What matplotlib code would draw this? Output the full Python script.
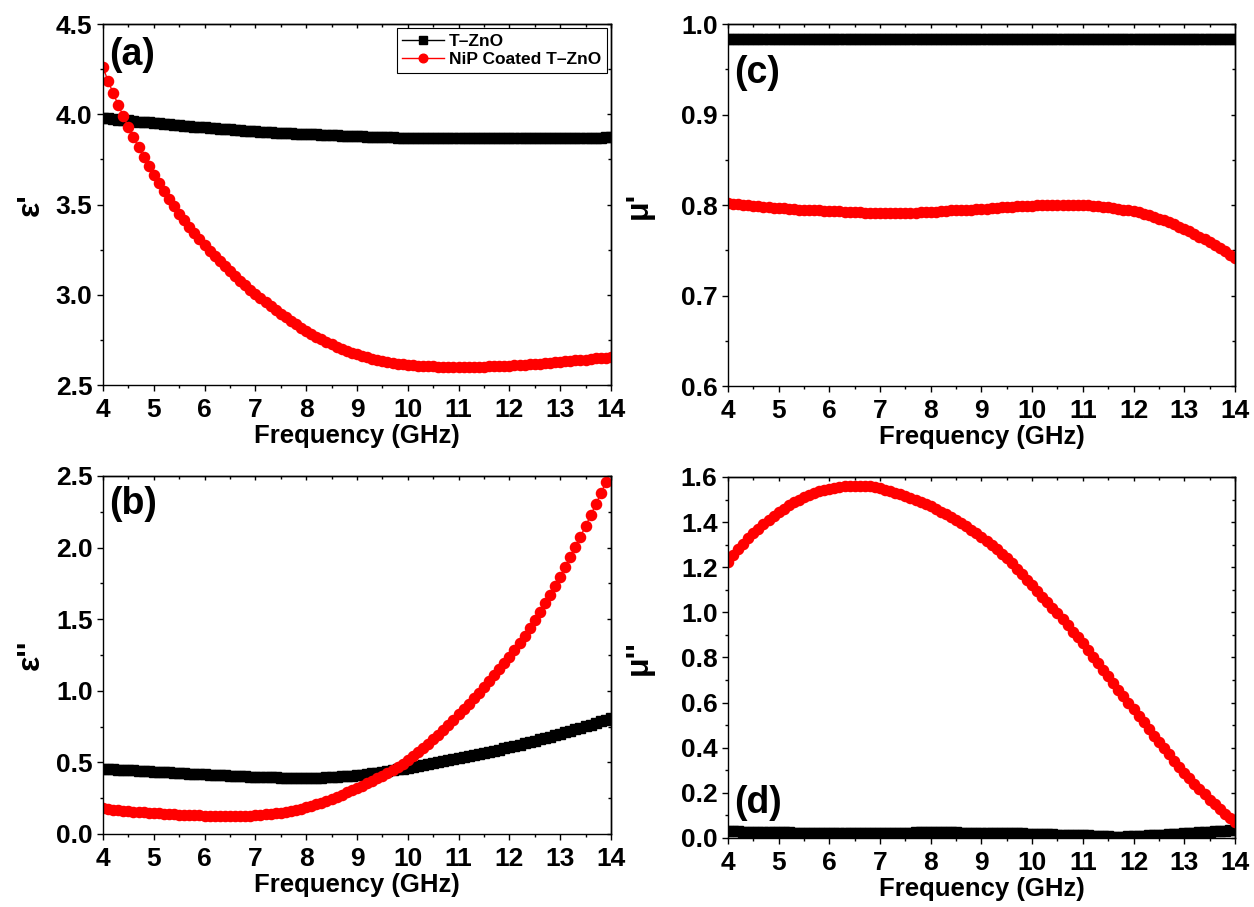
import matplotlib
matplotlib.use("Agg")
import matplotlib.pyplot as plt
import numpy as np
from matplotlib.ticker import MultipleLocator, FormatStrFormatter

plt.rcParams['font.family'] = ['Liberation Sans', 'DejaVu Sans']
plt.rcParams['font.weight'] = 'bold'
plt.rcParams['axes.linewidth'] = 1.0

# frequency sweep, 4-14 GHz in 0.1 GHz steps
freq = np.linspace(4, 14, 101)

# real permittivity
eps1_tzno = [
    3.980, 3.977, 3.974, 3.971, 3.968, 3.966, 3.963, 3.960, 3.957, 3.955,
    3.952, 3.949, 3.947, 3.944, 3.942, 3.939, 3.937, 3.934, 3.932, 3.929,
    3.927, 3.925, 3.923, 3.920, 3.918, 3.916, 3.914, 3.912, 3.910, 3.908,
    3.906, 3.904, 3.903, 3.901, 3.899, 3.898, 3.896, 3.895, 3.893, 3.892,
    3.890, 3.889, 3.888, 3.886, 3.885, 3.884, 3.883, 3.881, 3.880, 3.879,
    3.878, 3.877, 3.876, 3.875, 3.874, 3.874, 3.873, 3.872, 3.871, 3.871,
    3.870, 3.870, 3.869, 3.869, 3.868, 3.868, 3.868, 3.867, 3.867, 3.867,
    3.867, 3.867, 3.866, 3.866, 3.866, 3.866, 3.866, 3.866, 3.866, 3.866,
    3.866, 3.866, 3.866, 3.867, 3.867, 3.867, 3.867, 3.867, 3.868, 3.868,
    3.868, 3.868, 3.869, 3.869, 3.869, 3.870, 3.870, 3.871, 3.871, 3.872,
    3.872]
eps1_nip = [
    4.260, 4.185, 4.118, 4.052, 3.990, 3.930, 3.873, 3.818, 3.765, 3.714,
    3.665, 3.619, 3.575, 3.532, 3.490, 3.450, 3.413, 3.377, 3.342, 3.308,
    3.275, 3.245, 3.215, 3.186, 3.158, 3.130, 3.104, 3.078, 3.053, 3.029,
    3.005, 2.982, 2.960, 2.938, 2.916, 2.895, 2.875, 2.856, 2.837, 2.818,
    2.800, 2.784, 2.768, 2.753, 2.739, 2.725, 2.713, 2.701, 2.690, 2.680,
    2.670, 2.661, 2.653, 2.645, 2.638, 2.632, 2.627, 2.622, 2.618, 2.615,
    2.612, 2.610, 2.608, 2.606, 2.604, 2.603, 2.602, 2.601, 2.600, 2.600,
    2.600, 2.600, 2.601, 2.601, 2.602, 2.602, 2.603, 2.604, 2.605, 2.606,
    2.607, 2.609, 2.611, 2.612, 2.614, 2.616, 2.618, 2.621, 2.623, 2.626,
    2.628, 2.631, 2.633, 2.636, 2.638, 2.641, 2.644, 2.647, 2.649, 2.652,
    2.655]

# imaginary permittivity
eps2_tzno = [
    0.455, 0.453, 0.451, 0.450, 0.448, 0.446, 0.444, 0.442, 0.440, 0.438,
    0.436, 0.434, 0.432, 0.430, 0.428, 0.426, 0.424, 0.422, 0.420, 0.418,
    0.416, 0.414, 0.412, 0.411, 0.409, 0.407, 0.405, 0.404, 0.402, 0.401,
    0.399, 0.398, 0.397, 0.396, 0.395, 0.394, 0.393, 0.393, 0.392, 0.392,
    0.392, 0.392, 0.393, 0.394, 0.395, 0.397, 0.399, 0.402, 0.404, 0.407,
    0.410, 0.414, 0.419, 0.423, 0.428, 0.433, 0.439, 0.445, 0.451, 0.457,
    0.463, 0.469, 0.475, 0.481, 0.488, 0.494, 0.501, 0.507, 0.514, 0.521,
    0.528, 0.535, 0.542, 0.549, 0.557, 0.564, 0.572, 0.580, 0.588, 0.597,
    0.605, 0.614, 0.623, 0.632, 0.641, 0.650, 0.660, 0.670, 0.680, 0.690,
    0.700, 0.711, 0.721, 0.732, 0.742, 0.753, 0.764, 0.776, 0.787, 0.799,
    0.810]
eps2_nip = [
    0.178, 0.174, 0.170, 0.167, 0.163, 0.160, 0.157, 0.154, 0.151, 0.148,
    0.146, 0.144, 0.142, 0.140, 0.138, 0.136, 0.135, 0.133, 0.132, 0.130,
    0.129, 0.128, 0.127, 0.127, 0.126, 0.126, 0.126, 0.127, 0.128, 0.129,
    0.131, 0.134, 0.137, 0.140, 0.144, 0.148, 0.154, 0.161, 0.168, 0.176,
    0.185, 0.196, 0.207, 0.219, 0.232, 0.245, 0.260, 0.275, 0.290, 0.305,
    0.320, 0.337, 0.354, 0.371, 0.389, 0.408, 0.428, 0.449, 0.470, 0.492,
    0.515, 0.543, 0.572, 0.601, 0.630, 0.660, 0.694, 0.729, 0.764, 0.799,
    0.835, 0.872, 0.910, 0.948, 0.986, 1.025, 1.066, 1.107, 1.149, 1.192,
    1.235, 1.283, 1.333, 1.385, 1.439, 1.495, 1.553, 1.612, 1.672, 1.733,
    1.795, 1.864, 1.934, 2.005, 2.077, 2.150, 2.225, 2.301, 2.378, 2.456,
    2.535]

# real permeability
mu1_tzno = [
    0.983, 0.983, 0.983, 0.983, 0.983, 0.983, 0.983, 0.983, 0.983, 0.983,
    0.983, 0.983, 0.983, 0.983, 0.983, 0.983, 0.983, 0.983, 0.983, 0.983,
    0.983, 0.983, 0.983, 0.983, 0.983, 0.983, 0.983, 0.983, 0.983, 0.983,
    0.983, 0.983, 0.983, 0.983, 0.983, 0.983, 0.983, 0.983, 0.983, 0.983,
    0.983, 0.983, 0.983, 0.983, 0.983, 0.983, 0.983, 0.983, 0.983, 0.983,
    0.983, 0.983, 0.983, 0.983, 0.983, 0.983, 0.983, 0.983, 0.983, 0.983,
    0.983, 0.983, 0.983, 0.983, 0.983, 0.983, 0.983, 0.983, 0.983, 0.983,
    0.983, 0.983, 0.983, 0.983, 0.983, 0.983, 0.983, 0.983, 0.983, 0.983,
    0.983, 0.983, 0.983, 0.983, 0.983, 0.983, 0.983, 0.983, 0.983, 0.983,
    0.983, 0.983, 0.983, 0.983, 0.983, 0.983, 0.983, 0.983, 0.983, 0.983,
    0.983]
mu1_nip = [
    0.802, 0.801, 0.801, 0.800, 0.800, 0.799, 0.799, 0.798, 0.798, 0.797,
    0.797, 0.797, 0.796, 0.796, 0.795, 0.795, 0.795, 0.794, 0.794, 0.793,
    0.793, 0.793, 0.793, 0.792, 0.792, 0.792, 0.792, 0.791, 0.791, 0.791,
    0.791, 0.791, 0.791, 0.791, 0.791, 0.791, 0.791, 0.791, 0.792, 0.792,
    0.792, 0.792, 0.793, 0.793, 0.794, 0.794, 0.794, 0.795, 0.795, 0.796,
    0.796, 0.796, 0.797, 0.797, 0.798, 0.798, 0.798, 0.799, 0.799, 0.799,
    0.799, 0.800, 0.800, 0.800, 0.800, 0.800, 0.800, 0.800, 0.800, 0.800,
    0.800, 0.800, 0.799, 0.799, 0.798, 0.798, 0.797, 0.796, 0.795, 0.794,
    0.793, 0.792, 0.790, 0.789, 0.787, 0.785, 0.783, 0.781, 0.779, 0.776,
    0.774, 0.771, 0.768, 0.765, 0.762, 0.759, 0.756, 0.752, 0.749, 0.745,
    0.741]

# imaginary permeability
mu2_tzno = [
    0.030, 0.029, 0.029, 0.028, 0.028, 0.027, 0.027, 0.026, 0.026, 0.025,
    0.025, 0.025, 0.025, 0.024, 0.024, 0.024, 0.024, 0.024, 0.024, 0.024,
    0.024, 0.024, 0.024, 0.024, 0.024, 0.024, 0.024, 0.024, 0.024, 0.024,
    0.024, 0.024, 0.024, 0.024, 0.024, 0.024, 0.024, 0.025, 0.025, 0.025,
    0.025, 0.025, 0.025, 0.025, 0.025, 0.025, 0.024, 0.024, 0.024, 0.024,
    0.024, 0.023, 0.023, 0.022, 0.022, 0.021, 0.021, 0.020, 0.020, 0.019,
    0.019, 0.018, 0.017, 0.016, 0.016, 0.015, 0.014, 0.014, 0.013, 0.012,
    0.012, 0.011, 0.010, 0.009, 0.008, 0.007, 0.006, 0.005, 0.006, 0.007,
    0.008, 0.009, 0.010, 0.011, 0.012, 0.014, 0.015, 0.016, 0.017, 0.019,
    0.020, 0.022, 0.023, 0.025, 0.026, 0.028, 0.029, 0.031, 0.032, 0.034,
    0.036]
mu2_nip = [
    1.225, 1.253, 1.279, 1.304, 1.328, 1.350, 1.371, 1.391, 1.410, 1.428,
    1.445, 1.460, 1.474, 1.487, 1.499, 1.510, 1.519, 1.528, 1.536, 1.542,
    1.548, 1.552, 1.556, 1.559, 1.561, 1.562, 1.562, 1.560, 1.558, 1.554,
    1.550, 1.544, 1.537, 1.530, 1.523, 1.515, 1.506, 1.497, 1.489, 1.480,
    1.470, 1.459, 1.447, 1.435, 1.423, 1.410, 1.396, 1.381, 1.366, 1.351,
    1.335, 1.317, 1.298, 1.280, 1.260, 1.240, 1.217, 1.193, 1.169, 1.145,
    1.120, 1.095, 1.070, 1.045, 1.020, 0.995, 0.969, 0.942, 0.915, 0.889,
    0.862, 0.833, 0.804, 0.775, 0.745, 0.716, 0.687, 0.657, 0.628, 0.599,
    0.570, 0.541, 0.512, 0.483, 0.454, 0.425, 0.397, 0.370, 0.343, 0.316,
    0.290, 0.265, 0.240, 0.216, 0.193, 0.170, 0.149, 0.128, 0.108, 0.089,
    0.070]

labels = ["T\u2013ZnO", "NiP Coated T\u2013ZnO"]

fig = plt.figure(figsize=(12.54, 9.07), dpi=100)

ax_a = fig.add_axes([0.0821, 0.5755, 0.4051, 0.3980])
ax_b = fig.add_axes([0.0821, 0.0805, 0.4051, 0.3947])
ax_c = fig.add_axes([0.5805, 0.5744, 0.4043, 0.3991])
ax_d = fig.add_axes([0.5805, 0.0761, 0.4043, 0.3980])

panels = [
    (ax_a, eps1_tzno, eps1_nip, (2.5, 4.5), 0.5, "\u03b5'", "(a)", 0.965, -0.112),
    (ax_b, eps2_tzno, eps2_nip, (0.0, 2.5), 0.5, "\u03b5''", "(b)", 0.972, -0.112),
    (ax_c, mu1_tzno, mu1_nip, (0.6, 1.0), 0.1, "\u03bc'", "(c)", 0.915, -0.146),
    (ax_d, mu2_tzno, mu2_nip, (0.0, 1.6), 0.2, "\u03bc''", "(d)", 0.148, -0.146),
]

for ax, black, red, ylim, ystep, ylab, tag, tag_y, ylab_x in panels:
    ax.plot(freq, black, color='black', marker='s', markersize=6.8, lw=1.0,
            label=labels[0])
    ax.plot(freq, red, color='red', marker='o', markersize=7.3, lw=1.0,
            markeredgecolor='red', label=labels[1])
    ax.set_xlim(4, 14)
    ax.set_ylim(*ylim)

    ax.xaxis.set_major_locator(MultipleLocator(1))
    ax.xaxis.set_minor_locator(MultipleLocator(0.5))
    ax.yaxis.set_major_locator(MultipleLocator(ystep))
    ax.yaxis.set_minor_locator(MultipleLocator(ystep / 2))
    ax.yaxis.set_major_formatter(FormatStrFormatter('%.1f'))

    ax.tick_params(which='both', direction='out', width=1.0, labelsize=19,
                   top=False, right=False)
    ax.tick_params(which='major', length=4.5)
    ax.tick_params(which='minor', length=2.5)
    ax.tick_params(axis='x', which='major', pad=5)
    ax.tick_params(axis='y', which='major', pad=3)

    # mirrored inward ticks on the top and right frame
    top = ax.secondary_xaxis('top')
    top.xaxis.set_major_locator(MultipleLocator(1))
    top.xaxis.set_minor_locator(MultipleLocator(0.5))
    top.tick_params(which='both', direction='in', labeltop=False, width=1.0)
    top.tick_params(which='major', length=3)
    top.tick_params(which='minor', length=2)
    right = ax.secondary_yaxis('right')
    right.yaxis.set_major_locator(MultipleLocator(ystep))
    right.yaxis.set_minor_locator(MultipleLocator(ystep / 2))
    right.tick_params(which='both', direction='in', labelright=False, width=1.0)
    right.tick_params(which='major', length=3)
    right.tick_params(which='minor', length=2)

    ax.set_xlabel("Frequency (GHz)", fontsize=18.5, fontweight='bold', labelpad=1)
    ax.set_ylabel(ylab, fontsize=23, fontweight='bold')
    ax.yaxis.set_label_coords(ylab_x, 0.5)
    ax.text(0.013, tag_y, tag, transform=ax.transAxes, fontsize=27,
            fontweight='bold', va='top', ha='left')

ax_a.legend(loc='upper right', frameon=True, fancybox=False, edgecolor='black',
            framealpha=1, borderpad=0.3, handlelength=2.4, handletextpad=0.3,
            labelspacing=0.2, borderaxespad=0.25, markerscale=0.85,
            prop={'weight': 'bold', 'size': 12.5}).get_frame().set_linewidth(0.8)

fig.savefig("out.png", dpi=100)
